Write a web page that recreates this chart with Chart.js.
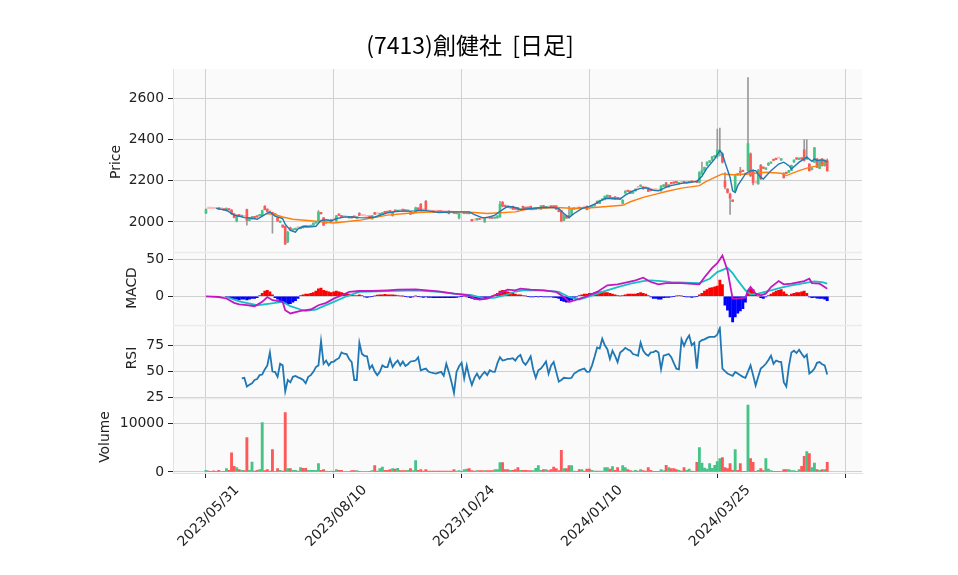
<!DOCTYPE html>
<html lang="ja">
<head>
<meta charset="utf-8">
<title>(7413)創健社 [日足]</title>
<script src="https://cdn.jsdelivr.net/npm/chart.js@4.4.1/dist/chart.umd.min.js"></script>
<style>
  html, body { margin: 0; padding: 0; background: #fff; }
  #chart { display: block; }
</style>
</head>
<body>
<canvas id="chart" width="958" height="575"></canvas>
<script>
// values (x = trading-day index)
const titleText = '(7413)創健社  [日足]';
const tickIndex = [0, 50, 100, 150, 200, 250];
const tickLabels = ['2023/05/31', '2023/08/10', '2023/10/24', '2024/01/10', '2024/03/25', ''];
const priceTicks = [2000, 2200, 2400, 2600];
const macdTicks = [0, 50];
const rsiTicks = [25, 50, 75];
const volTicks = [0, 10000];

const opens = [
  2044,2065,2065,2064,2064,2066,2062,2062,2055,2062, 2058,2040,2005,2035,2026,2025,2060,2008,2015,2025,
  2028,2030,2030,2076,2062,2050,2045,2035,2020,1998, 1985,1979,1905,1972,1960,1963,1970,1968,1978,1976,
  1975,1978,1985,1995,2000,2042,2020,1995,2005,2005, 2012,2005,2036,2030,2025,2022,2020,2024,2025,2018,
  2042,2030,2028,2025,2026,2015,2045,2038,2035,2036, 2048,2048,2055,2030,2054,2050,2054,2056,2055,2052,
  2050,2040,2045,2068,2085,2058,2100,2052,2050,2050, 2050,2050,2050,2048,2048,2053,2045,2046,2040,2020,
  2042,2040,2040,2045,2012,2008,2010,2015,2015,2000, 2020,2022,2020,2018,2020,2025,2095,2078,2075,2068,
  2076,2064,2070,2058,2076,2066,2068,2076,2060,2062, 2064,2062,2080,2068,2070,2074,2074,2078,2060,2054,
  2008,2028,2030,2035,2062,2065,2068,2064,2070,2076, 2070,2070,2078,2100,2090,2105,2108,2115,2128,2112,
  2122,2114,2112,2090,2140,2150,2150,2140,2150,2165, 2172,2171,2165,2165,2155,2154,2155,2152,2150,2172,
  2190,2170,2188,2192,2195,2185,2190,2195,2188,2190, 2193,2192,2195,2192,2235,2250,2275,2290,2300,2315,
  2318,2340,2330,2200,2160,2135,2105,2150,2232,2245, 2248,2235,2250,2330,2250,2190,2185,2275,2262,2255,
  2275,2285,2300,2305,2308,2300,2235,2238,2240,2250, 2290,2306,2304,2308,2350,2305,2281,2255,2290,2306,
  2260,2306,2273,2298
];
const highs = [
  2064,2065,2065,2064,2064,2067,2062,2063,2068,2063, 2060,2042,2035,2036,2030,2025,2062,2022,2027,2026,
  2029,2034,2058,2080,2064,2050,2048,2040,2022,2002, 1986,1981,1955,1975,1964,1966,1970,1974,1980,1977,
  1979,1983,1996,1999,2055,2045,2022,2002,2005,2011, 2012,2032,2038,2031,2025,2022,2024,2025,2026,2022,
  2045,2030,2028,2025,2027,2032,2047,2038,2043,2046, 2049,2049,2057,2050,2055,2056,2054,2057,2056,2056,
  2051,2046,2072,2069,2090,2058,2105,2052,2050,2051, 2050,2051,2051,2049,2049,2055,2045,2047,2043,2042,
  2042,2046,2043,2046,2013,2008,2013,2016,2015,2020, 2020,2023,2021,2021,2031,2100,2100,2079,2076,2071,
  2077,2065,2071,2061,2077,2067,2069,2077,2063,2066, 2069,2080,2081,2071,2070,2075,2075,2079,2061,2056,
  2036,2030,2076,2064,2066,2065,2069,2067,2070,2078, 2071,2079,2086,2102,2106,2111,2126,2131,2129,2119,
  2123,2115,2113,2108,2151,2151,2151,2146,2161,2165, 2180,2172,2165,2166,2156,2154,2155,2152,2176,2181,
  2192,2181,2189,2193,2196,2189,2190,2196,2193,2193, 2194,2192,2196,2245,2290,2266,2292,2297,2318,2322,
  2450,2455,2335,2240,2162,2140,2106,2230,2234,2265, 2249,2236,2700,2335,2255,2190,2255,2280,2263,2262,
  2288,2291,2301,2306,2308,2306,2240,2239,2251,2276, 2301,2307,2307,2309,2400,2400,2283,2262,2362,2308,
  2302,2308,2302,2306
];
const lows = [
  2040,2065,2065,2064,2064,2061,2062,2057,2052,2057, 2036,2020,2000,2027,2024,2025,1984,2006,2013,2018,
  2022,2028,2028,2058,2048,2050,1946,2032,2003,1996, 1973,1890,1900,1960,1958,1961,1970,1966,1970,1974,
  1974,1977,1983,1993,1998,2038,1982,1993,2005,2004, 2012,2003,2030,2024,2025,2022,2019,2019,2021,2016,
  2030,2030,2028,2025,2021,2013,2036,2038,2034,2035, 2043,2045,2044,2028,2051,2049,2054,2054,2052,2051,
  2036,2039,2044,2059,2058,2058,2055,2052,2050,2047, 2050,2047,2047,2045,2044,2039,2045,2041,2039,2015,
  2042,2039,2039,2039,2004,2008,2009,2011,2015,1998, 2020,2017,2017,2017,2019,2022,2073,2074,2069,2067,
  2061,2061,2057,2057,2061,2064,2065,2059,2059,2061, 2063,2061,2067,2067,2070,2071,2071,2061,2049,2000,
  2006,2017,2018,2034,2061,2065,2064,2063,2070,2059, 2067,2069,2077,2089,2089,2104,2107,2114,2114,2111,
  2109,2111,2109,2088,2139,2147,2137,2139,2149,2165, 2171,2159,2165,2147,2151,2154,2155,2152,2149,2171,
  2168,2169,2184,2187,2189,2184,2190,2189,2187,2189, 2191,2192,2191,2190,2230,2249,2273,2288,2298,2313,
  2310,2320,2285,2160,2140,2037,2099,2145,2226,2225, 2244,2229,2245,2220,2180,2190,2183,2205,2259,2254,
  2274,2284,2297,2302,2308,2299,2212,2234,2239,2249, 2289,2304,2303,2304,2295,2303,2247,2253,2288,2263,
  2258,2271,2271,2245
];
const closes = [
  2060,2065,2065,2064,2064,2062,2062,2058,2066,2058, 2040,2022,2033,2028,2028,2025,2008,2020,2025,2020,
  2024,2032,2055,2060,2050,2050,2040,2038,2005,2000, 1975,1894,1950,1962,1962,1965,1970,1972,1972,1975,
  1978,1982,1995,1998,2048,2040,1985,2000,2005,2010, 2012,2030,2032,2025,2025,2022,2022,2020,2022,2020,
  2032,2030,2028,2025,2022,2030,2038,2038,2042,2045, 2044,2046,2045,2048,2052,2055,2054,2055,2053,2055,
  2038,2045,2068,2060,2060,2058,2058,2052,2050,2048, 2050,2048,2048,2046,2045,2040,2045,2042,2042,2040,
  2042,2045,2042,2040,2005,2008,2012,2012,2015,2018, 2020,2018,2018,2020,2030,2085,2075,2075,2070,2070,
  2062,2062,2058,2060,2062,2065,2066,2060,2062,2065, 2068,2078,2068,2070,2070,2072,2072,2062,2050,2005,
  2035,2018,2025,2062,2065,2065,2065,2066,2070,2060, 2068,2078,2085,2090,2105,2110,2125,2130,2115,2118,
  2110,2112,2110,2105,2150,2148,2138,2145,2160,2165, 2176,2160,2165,2148,2152,2154,2155,2152,2175,2180,
  2170,2180,2185,2188,2190,2188,2190,2190,2192,2192, 2192,2192,2192,2240,2250,2265,2290,2295,2316,2320,
  2350,2345,2290,2170,2143,2115,2100,2225,2228,2240, 2245,2230,2380,2225,2190,2190,2250,2210,2260,2260,
  2285,2290,2298,2303,2308,2305,2215,2235,2250,2275, 2300,2305,2306,2305,2298,2315,2249,2260,2360,2265,
  2300,2273,2300,2249
];
const volumes = [
  345,200,150,250,150,350,100,150,690,345, 3930,1170,900,480,345,300,7100,345,2070,207,
  345,480,10200,300,480,200,4620,150,690,345, 200,12280,690,690,345,345,200,900,760,760,
  345,345,345,345,1725,345,480,207,150,207, 150,480,345,345,100,100,138,276,276,276,
  138,100,100,100,138,276,1311,200,690,1035, 345,345,483,690,621,759,276,276,276,345,
  690,300,2346,345,483,200,483,207,207,207, 207,207,207,207,207,207,200,483,207,276,
  150,483,621,690,276,200,276,276,276,276, 276,276,276,483,483,1932,1932,483,483,345,
  345,483,897,345,345,345,276,276,300,759, 1311,345,483,483,300,483,1035,690,300,4485,
  690,690,1311,1311,207,150,483,483,200,621, 621,345,200,207,207,207,897,897,621,1104,
  345,897,200,1311,897,483,276,200,345,200, 483,276,200,897,345,150,150,150,483,300,
  1380,897,690,690,483,345,200,897,345,621, 207,150,2001,5037,1863,828,621,1725,759,1380,
  2139,2760,2967,897,690,1725,345,4623,345,1725, 138,138,13800,2760,2001,150,345,690,276,2760,
  621,276,138,138,138,138,483,483,483,276, 276,138,483,1173,3243,4209,3795,897,1863,483,
  345,483,483,2001
];

// moving averages [day, value]
const ma5 = [
  [4,2066],[8,2057],[11,2033],[13,2028],[15,2021],[17,2020],[20,2013],[23,2036],[25,2049],[27,2028],
  [30,2016],[31,1989],[33,1959],[35,1951],[36,1967],[38,1979],[41,1976],[43,1979],[45,2008],[47,2011],
  [49,2005],[51,2016],[54,2024],[57,2024],[60,2021],[63,2020],[66,2024],[71,2044],[75,2052],[82,2054],
  [84,2057],[87,2054],[91,2046],[97,2049],[103,2049],[105,2036],[108,2021],[110,2021],[113,2033],[116,2060],
  [118,2076],[121,2070],[123,2060],[127,2065],[132,2070],[136,2070],[138,2065],[140,2041],[142,2021],[144,2041],
  [147,2065],[150,2076],[153,2093],[156,2114],[159,2114],[162,2111],[164,2130],[167,2151],[170,2163],[172,2166],
  [175,2154],[177,2151],[179,2163],[181,2174],[186,2187],[192,2197],[194,2222],[196,2262],[199,2306],[201,2347],
  [202,2330],[203,2290],[205,2216],[206,2151],[207,2143],[208,2176],[211,2233],[213,2249],[215,2249],[217,2216],
  [218,2208],[221,2249],[224,2281],[226,2290],[228,2273],[229,2257],[232,2290],[234,2306],[235,2314],[237,2294],
  [238,2306],[239,2298],[241,2301],[242,2298],[243,2290]
];
const ma25 = [
  [24,2040],[27,2036],[30,2024],[34,2013],[42,2005],[50,1995],[60,2008],[71,2033],[78,2041],[84,2047],
  [97,2049],[105,2046],[110,2041],[121,2049],[125,2060],[132,2068],[137,2070],[145,2065],[152,2070],[158,2076],
  [163,2081],[166,2098],[171,2119],[176,2135],[180,2148],[186,2164],[193,2176],[195,2192],[199,2216],[202,2233],
  [206,2229],[212,2233],[219,2241],[225,2236],[227,2225],[232,2249],[236,2265],[240,2273],[243,2290]
];

// MACD [day, value]
const macdLine = [
  [0,0],[5,-1],[8,-3],[11,-9],[13,-11],[16,-12],[19,-13.5],[22,-7.6],[24,-1],[26,-5.4],
  [30,-7.6],[31,-19],[33,-23.4],[37,-19.8],[41,-18],[44,-12.2],[47,-9],[50,-3.2],[54,2.7],[56,5.9],
  [60,7.2],[65,7.2],[71,8.1],[75,9],[82,9.5],[91,6.8],[97,3.6],[103,1.4],[105,-3.2],[107,-4.5],
  [110,-3.2],[113,1.4],[116,5.9],[118,9],[121,8.1],[123,10.4],[127,9],[132,8.1],[137,5.9],[140,-0.9],
  [142,-7.6],[145,-4.5],[149,0],[153,5.9],[157,14.9],[161,16.2],[165,19.4],[168,21.6],[171,25.2],[174,19.4],
  [177,16.2],[180,18],[186,18],[193,16.2],[195,26],[198,38.7],[200,45],[202,55.4],[204,35],[206,-3.2],
  [208,-3.2],[211,-1.8],[212,8.1],[213,12.6],[215,3.6],[217,1.4],[219,3.6],[221,12.6],[224,20.7],[226,16.2],
  [229,17.1],[232,19.4],[234,20.7],[236,23.9],[237,18],[240,17.1],[242,12.6],[243,10.4]
];
const signalLine = [
  [8,-1],[13,-6.8],[20,-12.2],[25,-9.9],[30,-7.6],[33,-13.5],[37,-18],[39,-19.8],[43,-18],[46,-13.5],
  [50,-7.6],[55,0],[60,5.9],[71,7.2],[82,8.1],[91,5.9],[97,3.6],[104,1.4],[109,-3.2],[113,-1.8],
  [117,1.4],[121,6.5],[124,8],[132,8.1],[138,5.9],[142,-0.9],[146,-4.5],[150,0],[155,5.9],[161,12.6],
  [166,17.1],[171,20.7],[174,21.6],[178,20.7],[182,19.4],[193,18],[197,23.9],[200,32.9],[204,38.7],[206,31.5],
  [208,21.6],[211,8.1],[213,2.7],[216,3.6],[221,8.1],[225,11.7],[229,14.9],[234,18],[238,20.3],[241,19.4],
  [243,17.1]
];
// histogram, one value per day (null before the signal line starts)
const macdHist = [
  null,null,null,null,null,null,null,null,-1,-2,
  -3,-4,-4,-5,-4,-4,-5,-4,-3,-3, -2,1,4,7,8,6,2,-2,-4,-6,
  -7,-10,-11,-10,-8,-6,-3,1,2,3, 3,4,5,7,10,11,8,7,6,5,
  6,7,6,5,4,4,3,2,1,1, 2,1,-1,-1.5,-1,-0.5,0.5,1.5,2,2,
  2.5,2,2,2,1.5,1,0.5,0.3,-0.5,-1, -1.5,-1,0.5,-0.5,-1,-1.5,-1,-1.5,-1.5,-2,
  -2,-2,-2,-2,-2,-2,-2,-2,-1.5,-1, -0.5,0.3,-1,-2,-3,-4,-4,-4,-3.5,-3,
  -2,-1,0.5,2,4,7,8,7,6,5, 4,3,2,2,1,0.5,-0.5,-1,-1,-0.5,
  -1,-0.5,-1,-1,-1,-1,-1.5,-2,-3,-6, -7,-8,-7,-5,-3,-1,1,2,3,3,
  4,4,5,6,6,6,5,5,4,3, 2,1,0.5,1,2,3,3,3,3,4,
  5,4,3,1,-1,-3,-3,-4,-4,-2, -1.5,-1.5,-1,-0.5,0.5,1,0.5,-0.5,-1,-1,
  -1.5,-1,-0.5,2,4,7,9,11,12,13, 14,22,16,-12,-19,-28,-35,-28,-23,-20,
  -17,-8,8,10,9,3,0.5,-2,-3,-1, 1,3,5,7,8,9,6,3,1,3,
  4,5,5,6,7,4,-1,-2,-1.5,-2.5, -3,-3,-4,-6
];

// RSI, one value per day from day 14
const rsiStart = 14;
const rsi = [
  43.5,44.1,35.8,37.5,38.9,42,42.9,46.6,47.2,52,55.9,68.2,50,49.7,45,57.4,
  55.9,31.2,42,39.8,45,45.9,44.5,43.5,42,38.9, 45,46.6,49.7,54.3,55.9,79,57.4,60.5,55.9,59,
  59.5,61.4,62.7,68.2,67,66.7,62,59,42,42, 77.5,66.7,65,64.5,52.8,55.9,50,46.6,49.7,55.9,
  54.3,54.3,62,54.3,58,60.5,55.9,59.6,55.3,57, 59.6,60,60.5,63.6,51.2,52,52.8,50,49.1,48.5,
  48.1,49,49.7,46,57.4,49.7,40.4,29.6,49.7,55, 58.3,43.5,55.9,45,37.3,44,48.1,43.5,47,49.7,
  46.6,51.2,50,49.7,58,63.6,60.5,61,62,62, 62.7,60.5,64,65.8,59,56.5,60,64.5,52,44.1,
  51.2,52.8,56,59.6,48.1,55.9,59,49.7,40.4,42, 44.1,43.8,43.5,44.1,48.1,49.5,51.2,52,52.8,49.7,
  50,55.9,64,72.9,71.9,81.2,75,71.3,62,69.8, 65,59,68.2,70,72.6,71,69.8,66.7,66,65.1,
  77.5,70,66.7,65.1,68.2,68.5,69.8,68.2,52.2,65.1, 65.8,66.7,63.6,58,52.8,52.2,80.6,74.4,80.6,84.3,
  75,77.5,52.8,78.1,80,80.6,82,83,83,83, 85.2,91.4,52.8,50.5,48.1,47,46,49.7,48.1,46.5,
  45,44.1,50,55.9,46.6,36.7,45,52.8,55,57.4, 61,65.1,57.4,60.5,59.5,59,40,35.8,55,68.2,
  69.8,67.6,70.7,67,63.6,66.1,48.1,50,52.8,58.3, 59,57,55.9,47.2
];

// ---- styling ----
const UP = '#46c387', DOWN = '#ff5858', FLAT = '#ffb8b8';
const GRID = '#cfcfcf';
const LATIN = '"DejaVu Sans", sans-serif';
Chart.defaults.font.family = LATIN;
Chart.defaults.font.size = 13.9;
Chart.defaults.color = '#222';

const days = closes.map((_, i) => i);
const candleColor = days.map(i => closes[i] > opens[i] ? UP : (closes[i] < opens[i] ? DOWN : FLAT));
const volColor = days.map(i => closes[i] > opens[i] ? UP : DOWN);
const pts = arr => arr.map(([x, y]) => ({x, y}));

const fixedTicks = list => scale => { scale.ticks = list.map(v => ({value: v})); };
const yAxis = (min, max, weight, list) => ({
  type: 'linear', position: 'left', stack: 'panels', stackWeight: weight,
  min, max,
  afterBuildTicks: fixedTicks(list),
  afterFit: s => { s.width = 65; },
  ticks: {autoSkip: false, padding: 4, color: '#222', callback: v => String(v)},
  grid: {color: GRID, lineWidth: 1, tickColor: '#222', tickLength: 5},
  border: {color: '#e2e2e2'}
});

const decor = {
  id: 'decor',
  beforeDraw(chart) {
    const {ctx, chartArea: a} = chart;
    ctx.save();
    ctx.fillStyle = '#fafafa';
    ctx.fillRect(a.left, a.top, a.right - a.left, a.bottom - a.top);
    ctx.restore();
  },
  afterDraw(chart) {
    const {ctx, chartArea: a, scales} = chart;
    ctx.save();
    // panel borders
    ctx.strokeStyle = '#ebebeb';
    ctx.lineWidth = 1.5;
    ['yM', 'yR', 'yV'].forEach(id => {
      const y = Math.round(scales[id].top) + 0.5;
      ctx.beginPath(); ctx.moveTo(a.left, y); ctx.lineTo(a.right, y); ctx.stroke();
    });
    // title
    ctx.fillStyle = '#000';
    ctx.font = '23px "Noto Sans CJK JP"';
    ctx.textAlign = 'center';
    ctx.textBaseline = 'middle';
    ctx.fillText(titleText, 470, 45);
    // panel axis labels
    ctx.fillStyle = '#222';
    ctx.font = '13.9px ' + LATIN;
    [['Price', 116, 162], ['MACD', 132, 288], ['RSI', 132, 358], ['Volume', 105, 437]].forEach(([t, x, y]) => {
      ctx.save();
      ctx.translate(x, y);
      ctx.rotate(-Math.PI / 2);
      ctx.fillText(t, 0, 0);
      ctx.restore();
    });
    ctx.restore();
  }
};

const histPoints = days.filter(i => macdHist[i] !== null).map(i => ({x: i, y: macdHist[i]}));

new Chart(document.getElementById('chart'), {
  type: 'bar',
  data: {
    datasets: [
      {type: 'line', yAxisID: 'yP', data: pts(ma5), borderColor: '#1f77b4', borderWidth: 1.4, pointRadius: 0, order: 1},
      {type: 'line', yAxisID: 'yP', data: pts(ma25), borderColor: '#ff7f0e', borderWidth: 1.4, pointRadius: 0, order: 1},
      {type: 'bar', yAxisID: 'yP', grouped: false, order: 2, barThickness: 2, minBarLength: 1.5,
        data: days.map(i => ({x: i, y: [opens[i], closes[i]]})), backgroundColor: candleColor},
      {type: 'bar', yAxisID: 'yP', grouped: false, order: 3, barThickness: 1,
        data: days.filter(i => highs[i] > lows[i]).map(i => ({x: i, y: [lows[i], highs[i]]})), backgroundColor: '#9a9a9a'},
      {type: 'line', yAxisID: 'yM', data: pts(macdLine), borderColor: '#c218c2', borderWidth: 1.8, pointRadius: 0, order: 1},
      {type: 'line', yAxisID: 'yM', data: pts(signalLine), borderColor: '#17c0c8', borderWidth: 1.8, pointRadius: 0, order: 1},
      {type: 'bar', yAxisID: 'yM', grouped: false, order: 2, barThickness: 2.2,
        data: histPoints, backgroundColor: histPoints.map(p => p.y >= 0 ? '#ff0000' : '#0000ff')},
      {type: 'line', yAxisID: 'yR', data: rsi.map((v, k) => ({x: k + rsiStart, y: v})), borderColor: '#1f77b4', borderWidth: 1.8, pointRadius: 0, order: 1},
      {type: 'bar', yAxisID: 'yV', grouped: false, order: 2, barThickness: 2.2,
        data: days.map(i => ({x: i, y: volumes[i]})), backgroundColor: volColor}
    ]
  },
  options: {
    responsive: false,
    animation: false,
    layout: {padding: {left: 108, right: 96, top: 69, bottom: 0}},
    plugins: {legend: {display: false}, tooltip: {enabled: false}, title: {display: false}},
    scales: {
      x: {
        type: 'linear', position: 'bottom', min: -12.9, max: 256.6, offset: false,
        afterBuildTicks: fixedTicks(tickIndex),
        afterFit: s => { s.height = 102; },
        ticks: {autoSkip: false, maxRotation: 45, minRotation: 45, labelOffset: 31, padding: 4, color: '#222',
          callback: v => tickLabels[tickIndex.indexOf(v)]},
        grid: {offset: false, color: GRID, lineWidth: 1, tickColor: '#222', tickLength: 5},
        border: {color: '#e2e2e2'}
      },
      yV: yAxis(-207, 15165, 74.4, volTicks),
      yR: yAxis(24.4, 94.2, 73.3, rsiTicks),
      yM: yAxis(-39.2, 59.9, 72.7, macdTicks),
      yP: yAxis(1853, 2742, 183, priceTicks)
    }
  },
  plugins: [decor]
});
</script>
</body>
</html>
